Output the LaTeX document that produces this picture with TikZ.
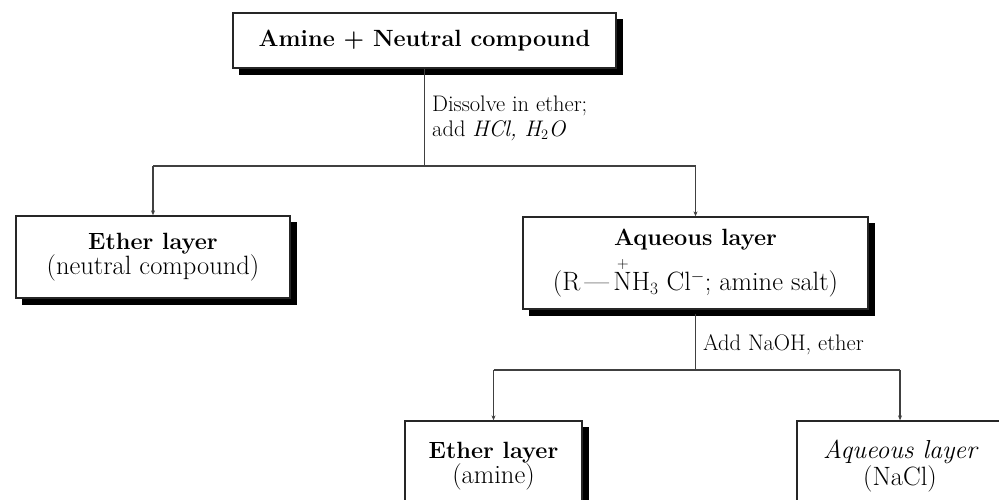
\documentclass[tikz,border=0pt]{standalone}
\usetikzlibrary{arrows.meta}
\newcommand\hdr[1]{{\fontsize{23.5}{30}\selectfont\bfseries #1}}
\newcommand\hdi[1]{{\fontsize{26}{30}\selectfont\itshape #1}}
\newcommand\sbt[1]{{\fontsize{26.5}{30}\selectfont #1}}
\newcommand\plusN{\rlap{\hspace{0.14em}\raisebox{0.84em}{\fontsize{16}{16}\selectfont +}}N}
\begin{document}
\begin{tikzpicture}[x=1pt,y=-1pt,
 box/.style={draw=black!85, line width=1.3pt, align=center, inner sep=0pt, fill=white},
 conn/.style={draw=black!75, line width=1.4pt},
 tip/.style={-{Stealth[length=5pt,width=4pt]}},
 shadowline/.style={line width=6pt, black},
 lbl/.style={anchor=west, align=left, inner sep=0pt, font=\fontsize{22.5}{25}\selectfont}]
\useasboundingbox (0,0) rectangle (999,499);
\fill[white] (0,0) rectangle (999,499);
\clip (0,0) rectangle (999,499);

\node[box, minimum width=383pt, minimum height=55pt] (top) at (424.5,40.5) {\hdr{Amine + Neutral compound}};
\node[box, minimum width=274pt, minimum height=82pt] (left) at (153,257) {\hdr{Ether layer}\\\sbt{(neutral compound)}};
\node[box, minimum width=345pt, minimum height=92pt] (mid) at (695.5,263) {\hdr{Aqueous layer}\\[8pt]\sbt{(R\,\textemdash\,\plusN H$_3$ Cl$^{-}$; amine salt)}};
\node[box, minimum width=177pt, minimum height=90pt] (bl) at (493.5,466) {\hdr{Ether layer}\\\sbt{(amine)}};
\node[box, minimum width=206pt, minimum height=90pt] (br) at (900,466) {\hdi{Aqueous layer}\\\sbt{(NaCl)}};

\foreach \n in {top,left,mid,bl,br}
  \draw[shadowline] ([shift={(3.5,7)}]\n.north east) -- ([shift={(3.5,3.5)}]\n.south east) -- ([shift={(7,3.5)}]\n.south west);

\node[lbl] (l1) at (432,118) {Dissolve in ether;\\add \textit{HCl, H$_2$O}};
\node[lbl] (l2) at (703,345) {Add NaOH, ether};

\coordinate (j1) at (425,166);
\coordinate (j2) at (697,370);

\draw[conn] (top.south) -- (top.south |- j1);
\draw[conn] (left.north |- j1) -- (mid.north |- j1);
\draw[conn,tip] (left.north |- j1) -- (left.north);
\draw[conn,tip] (mid.north |- j1) -- (mid.north);

\draw[conn] ([shift={(0,4)}]mid.south) -- (mid.south |- j2);
\draw[conn] (bl.north |- j2) -- (br.north |- j2);
\draw[conn,tip] (bl.north |- j2) -- (bl.north);
\draw[conn,tip] (br.north |- j2) -- (br.north);
\end{tikzpicture}
\end{document}
